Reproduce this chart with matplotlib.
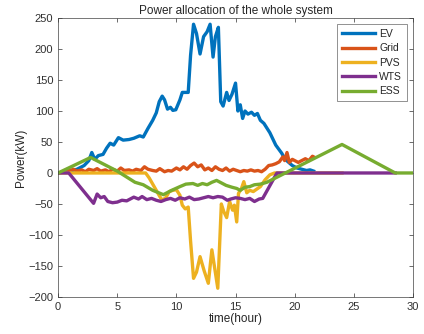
import matplotlib
matplotlib.use('Agg')
import matplotlib.pyplot as plt

plt.rcParams['font.family'] = ['Liberation Sans', 'DejaVu Sans']

# EV load
ev_t = [0, 1.0, 1.6, 2.2, 2.6, 2.85, 3.1, 3.4, 3.8, 4.1, 4.4, 4.7, 5.1, 5.5, 6.0, 6.4,
        6.9, 7.2, 7.6, 8.0, 8.3, 8.55, 8.8, 9.0, 9.25, 9.5, 9.7, 9.95, 10.3, 10.5, 11.0,
        11.2, 11.45, 11.7, 12.0, 12.3, 12.6, 12.85, 13.1, 13.3, 13.55, 13.75, 13.95,
        14.25, 14.45, 14.7, 15.0, 15.2, 15.4, 15.6, 15.8, 16.05, 16.35, 16.6, 16.85,
        17.1, 17.4, 17.9, 18.4, 18.9, 19.2, 19.5, 19.8, 20.2, 20.6, 21.0, 21.3, 21.6]
ev_p = [0, 3, 6, 12, 20, 33, 22, 28, 30, 40, 48, 45, 57, 53, 54, 56,
        60, 58, 72, 85, 97, 115, 124, 118, 103, 106, 101, 102, 118, 130, 130,
        190, 240, 225, 192, 220, 228, 240, 187, 220, 235, 115, 108,
        130, 117, 127, 145, 100, 110, 88, 100, 95, 98, 93, 96,
        85, 80, 65, 45, 32, 22, 17, 12, 8, 6, 4, 5, 3]

# grid
grid_t = [0, 0.5, 1.0, 1.3, 1.6, 2.0, 2.3, 2.6, 3.0, 3.3, 3.6, 4.0, 4.3, 4.6, 5.0, 5.3,
          5.6, 6.0, 6.3, 6.6, 7.0, 7.3, 7.6, 8.0, 8.3, 8.6, 9.0, 9.3, 9.6, 10.0, 10.3,
          10.6, 10.9, 11.2, 11.5, 11.8, 12.1, 12.4, 12.7, 13.0, 13.3, 13.6, 13.9, 14.2,
          14.5, 14.8, 15.1, 15.4, 15.7, 16.0, 16.3, 16.6, 16.9, 17.2, 17.5, 17.8, 18.1,
          18.4, 18.7, 19.0, 19.15, 19.35, 19.55, 19.8, 20.3, 20.6, 20.9, 21.2, 21.5, 21.6]
grid_p = [0, 2, 4, 6, 3, 5, 2, 6, 4, 7, 3, 5, 2, 6, 3, 8,
          4, 5, 3, 6, 4, 10, 6, 4, 3, 7, 2, 4, 3, 8, 5,
          10, 6, 12, 16, 10, 13, 5, 8, 4, 10, 6, 4, 8,
          3, 6, 4, 2, 4, 3, 5, 3, 4, 2, 6, 12, 13,
          15, 18, 26, 20, 33, 17, 22, 17, 20, 23, 20, 27, 26]

# photovoltaic
pvs_t = [0, 7.4, 7.7, 8.0, 8.3, 8.6, 8.8, 9.1, 9.4, 9.7, 10.0, 10.3, 10.5, 10.75, 11.0,
         11.2, 11.45, 11.7, 12.0, 12.35, 12.7, 13.0, 13.25, 13.5, 13.8, 14.0, 14.25,
         14.5, 14.75, 14.9, 15.1, 15.25, 15.5, 15.7, 15.95, 16.2, 16.5, 16.8, 17.1,
         17.5, 17.9, 18.3, 24.0]
pvs_p = [0, 0, -8, -18, -28, -38, -44, -40, -30, -28, -27, -36, -52, -58, -55,
         -110, -170, -160, -135, -158, -178, -124, -155, -186, -50, -62, -72,
         -46, -60, -52, -79, -33, -25, -14, -32, -28, -30, -26, -22,
         -11, -3, 0, 0]

# wind turbine
wts_t = [0, 0.9, 3.0, 3.3, 3.6, 3.9, 4.2, 4.6, 5.0, 5.4, 5.8, 6.1, 6.4, 6.8, 7.1, 7.5,
         7.9, 8.3, 8.7, 9.1, 9.5, 9.9, 10.3, 10.7, 11.1, 11.5, 11.9, 12.3, 12.7, 13.1,
         13.5, 13.9, 14.3, 14.6, 15.0, 15.4, 15.8, 16.2, 16.6, 17.0, 17.3, 18.5, 28.5]
wts_p = [0, 0, -49, -34, -40, -38, -46, -48, -47, -44, -45, -42, -39, -42, -38, -43,
         -41, -44, -46, -43, -41, -44, -40, -42, -39, -43, -42, -40, -38, -40,
         -38, -39, -44, -42, -40, -41, -43, -41, -46, -42, -41, 0, 0]

# storage
ess_t = [0, 2.75, 5.0, 6.5, 7.2, 8.0, 8.9, 9.6, 10.3, 10.8, 11.4, 11.8, 12.2, 12.6,
         13.0, 13.4, 13.8, 14.2, 14.7, 15.1, 15.4, 15.8, 16.2, 16.6, 17.1, 17.65,
         24.0, 28.5, 30]
ess_p = [0, 25, 3, -15, -19, -28, -35, -28, -22, -18, -17, -20, -17, -19,
         -15, -12, -16, -20, -23, -25, -28, -23, -22, -19, -18, -15,
         46, 0, 0]

fig = plt.figure(figsize=(4.24, 3.34), dpi=100)
ax = fig.add_axes([0.137, 0.111, 0.837, 0.835])

lw = 2.4
ax.plot(ev_t, ev_p, color='#0072BD', lw=lw, label='EV')
ax.plot(grid_t, grid_p, color='#D95319', lw=lw, label='Grid')
ax.plot(pvs_t, pvs_p, color='#EDB120', lw=lw, label='PVS')
ax.plot(wts_t, wts_p, color='#7E2F8E', lw=lw, label='WTS')
ax.plot(ess_t, ess_p, color='#77AC30', lw=lw, label='ESS')

ax.set_xlim(0, 30)
ax.set_ylim(-200, 250)
ax.set_xticks(range(0, 31, 5))
ax.set_yticks(range(-200, 251, 50))
ax.tick_params(direction='in', top=True, right=True, labelsize=8, colors='#303030',
               length=3, width=0.5)
for s in ax.spines.values():
    s.set_color('#404040')
    s.set_linewidth(0.5)

ax.set_title('Power allocation of the whole system', fontsize=8.5, color='#262626', pad=3)
ax.set_xlabel('time(hour)', fontsize=8.5, color='#262626', labelpad=1)
ax.set_ylabel('Power(kW)', fontsize=8.5, color='#262626', labelpad=1)

leg = ax.legend(loc='upper right', fontsize=7.5, handlelength=3.2, fancybox=False,
                borderaxespad=0.6, labelspacing=0.42, handletextpad=0.4,
                borderpad=0.45)
leg.get_frame().set_edgecolor('#404040')
leg.get_frame().set_linewidth(0.5)
for txt in leg.get_texts():
    txt.set_color('#262626')

fig.savefig('out.png', dpi=100)
